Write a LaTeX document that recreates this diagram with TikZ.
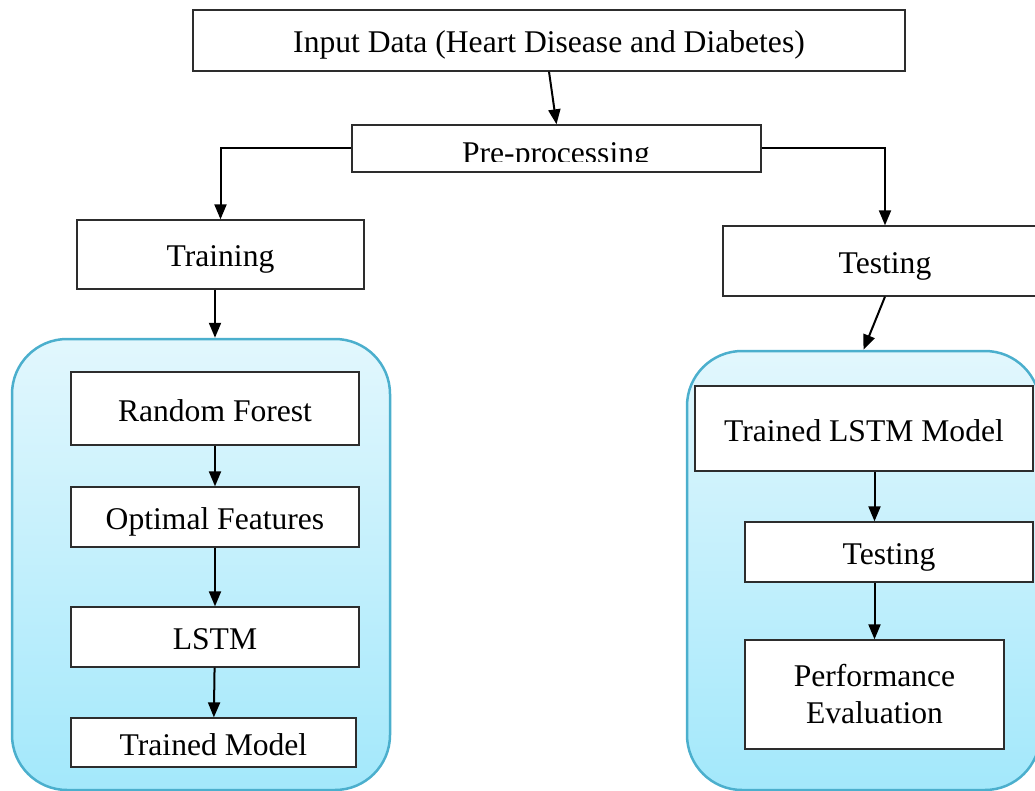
\documentclass[tikz,border=0pt]{standalone}
\usepackage{fontspec}
\setmainfont{Liberation Serif}
\usetikzlibrary{positioning,arrows.meta,calc}

\definecolor{panelline}{RGB}{75,175,205}
\definecolor{paneltop}{RGB}{226,247,253}
\definecolor{panelbot}{RGB}{163,232,251}
\definecolor{boxline}{RGB}{45,45,45}

\begin{document}
\begin{tikzpicture}[x=1pt, y=1pt,
    stage/.style={
        draw=boxline, line width=1.3pt, fill=white, inner sep=0pt,
        font=\fontsize{31.6}{37}\selectfont
    },
    single/.style={stage, text height=25pt, text depth=0pt},
    panel/.style={
        draw=panelline, line width=2.5pt, rounded corners=55pt,
        top color=paneltop, bottom color=panelbot, inner sep=0pt
    },
    flow/.style={-{Triangle[length=15pt,width=12pt]}, line width=2pt}
]

\clip (0,0) rectangle (1035,-791);

% Panels
\node[panel, minimum width=378pt, minimum height=451pt] (lpanel) at (201,-564.5) {};
\node[panel, minimum width=353pt, minimum height=439pt] (rpanel) at (863.5,-570.5) {};

% Top
\node[single, minimum width=712pt, minimum height=61pt] (input) at (549,-40.5) {Input Data (Heart Disease and Diabetes)};
\node[stage, minimum width=409pt, minimum height=47pt] (pre) at (556.5,-148.5) {};
\begin{scope}
    \clip (352,-125) rectangle (761,-162);
    \node[font=\fontsize{31.6}{37}\selectfont, anchor=base, inner sep=0pt] (pretext) at (556,-164) {Pre-processing};
\end{scope}

% Split
\node[single, minimum width=287pt, minimum height=69pt] (train) at (220.5,-254.5) {Training};
\node[single, minimum width=324pt, minimum height=70pt] (testA) at (885,-261) {Testing};

% Training side
\node[single, minimum width=288pt, minimum height=73pt] (rf) at (215,-408.5) {Random Forest};
\node[single, minimum width=288pt, minimum height=60pt] (feat) at (215,-517) {Optimal Features};
\node[single, minimum width=288pt, minimum height=60pt] (lstm) at (215,-637) {LSTM};
\node[single, minimum width=285pt, minimum height=49pt] (tmodel) at (213.5,-742.5) {Trained Model};

% Testing side
\node[single, minimum width=338pt, minimum height=85pt] (tlstm) at (864,-428.5) {Trained LSTM Model};
\node[single, minimum width=288pt, minimum height=60pt] (testB) at (889,-552) {Testing};
\node[stage, align=center, minimum width=259pt, minimum height=109pt] (perf) at (874.5,-694.5) {Performance\\Evaluation};

% Arrows
\draw[flow] (input.south) -- (pre.north);
\draw[flow] (pre.west) -| (train.north);
\draw[flow] (pre.east) -| (testA.north);
\draw[flow] (rf.north |- train.south) -- (rf.north |- lpanel.north);
\draw[flow] (testA.south) -- (rpanel.north);

\foreach \from/\to in {rf/feat, feat/lstm, lstm/tmodel}
{
    \draw[flow] (\from) -- (\to);
}

\draw[flow] (perf.north |- tlstm.south) -- (perf.north |- testB.north);
\draw[flow] (perf.north |- testB.south) -- (perf.north);

\end{tikzpicture}
\end{document}
